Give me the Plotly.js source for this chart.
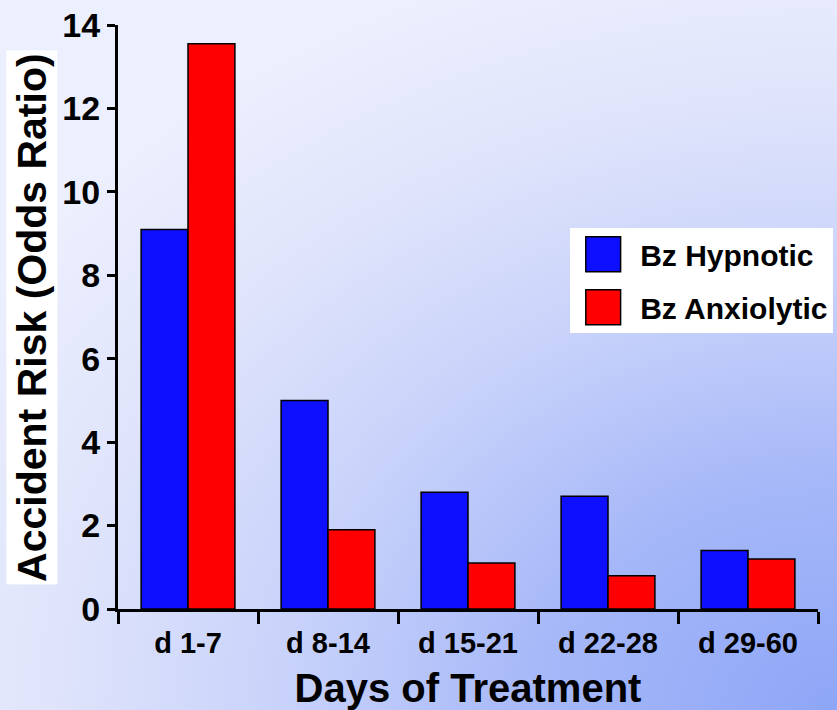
<!DOCTYPE html>
<html>
<head>
<meta charset="utf-8">
<script src="https://cdn.plot.ly/plotly-3.0.1.min.js"></script>
<style>
  html, body { margin: 0; padding: 0; }
  body {
    width: 837px; height: 710px; overflow: hidden;
    background: radial-gradient(ellipse 120% 110% at 100% 100%, #8ea6f7 0%, #a6b8f8 30%, #c8d2fa 55%, #dfe4fb 78%, #eceffd 100%);
  }
  #chart { width: 837px; height: 710px; }
</style>
</head>
<body>
<div id="chart"></div>
<script>
const categories = ["d 1-7", "d 8-14", "d 15-21", "d 22-28", "d 29-60"];
const hypnotic = [9.1, 5.0, 2.8, 2.7, 1.4];
const anxiolytic = [13.55, 1.9, 1.1, 0.8, 1.2];
const seriesNames = ["Bz Hypnotic", "Bz Anxiolytic"];
const yTicks = [0, 2, 4, 6, 8, 10, 12, 14];

const FONT = "Liberation Sans, Arial, Helvetica, sans-serif";

const traces = [
  {
    type: "bar", name: seriesNames[0], x: categories, y: hypnotic,
    legendgroup: "a",
    marker: { color: "#0f0fff", line: { color: "#000", width: 1.5 } }
  },
  {
    type: "bar", name: seriesNames[1], x: categories, y: anxiolytic,
    legendgroup: "b",
    marker: { color: "#ff0000", line: { color: "#000", width: 1.5 } }
  }
];

const layout = {
  width: 837, height: 710,
  paper_bgcolor: "rgba(0,0,0,0)",
  plot_bgcolor: "rgba(0,0,0,0)",
  margin: { l: 118, r: 19, t: 25, b: 101, autoexpand: false },
  barmode: "group",
  bargap: 0.33,
  bargroupgap: 0,
  font: { family: FONT, color: "#000", weight: 700 },
  showlegend: true,
  legend: {
    x: 0.646, y: 0.652, xanchor: "left", yanchor: "top",
    bgcolor: "#ffffff", borderwidth: 0,
    font: { family: FONT, size: 30, color: "#000", weight: 700 },
    itemwidth: 60, tracegroupgap: 11, traceorder: "grouped"
  },
  xaxis: {
    type: "category",
    range: [-0.5, 4.5],
    tickson: "boundaries",
    ticks: "outside", ticklen: 12, tickwidth: 3, tickcolor: "#000",
    ticklabelstandoff: 6,
    showline: true, linewidth: 3, linecolor: "#000",
    showgrid: false, zeroline: false,
    tickfont: { family: FONT, size: 29, color: "#000", weight: 700 },
    title: { text: "Days of Treatment", standoff: 18,
             font: { family: FONT, size: 40, color: "#000", weight: 700 } }
  },
  yaxis: {
    range: [0, 14],
    tickvals: yTicks,
    ticks: "outside", ticklen: 8, tickwidth: 3, tickcolor: "#000",
    showline: true, linewidth: 3, linecolor: "#000",
    showgrid: false, zeroline: false,
    tickfont: { family: FONT, size: 34, color: "#000", weight: 700 }
  },
  annotations: [
    {
      text: "Accident Risk (Odds Ratio)",
      xref: "paper", yref: "paper",
      x: -0.123, y: 0.5, xanchor: "center", yanchor: "middle",
      textangle: -90, showarrow: false,
      bgcolor: "#ffffff", borderpad: 2,
      font: { family: FONT, size: 41, color: "#000", weight: 700 }
    }
  ]
};

Plotly.newPlot("chart", traces, layout, { displayModeBar: false, staticPlot: true }).then(function (gd) {
  gd.querySelectorAll(".legendpoints path").forEach(function (p) {
    p.style.transform = "translate(33px, 0px) scale(2.9)";
    p.style.vectorEffect = "non-scaling-stroke";
  });
});
</script>
</body>
</html>
